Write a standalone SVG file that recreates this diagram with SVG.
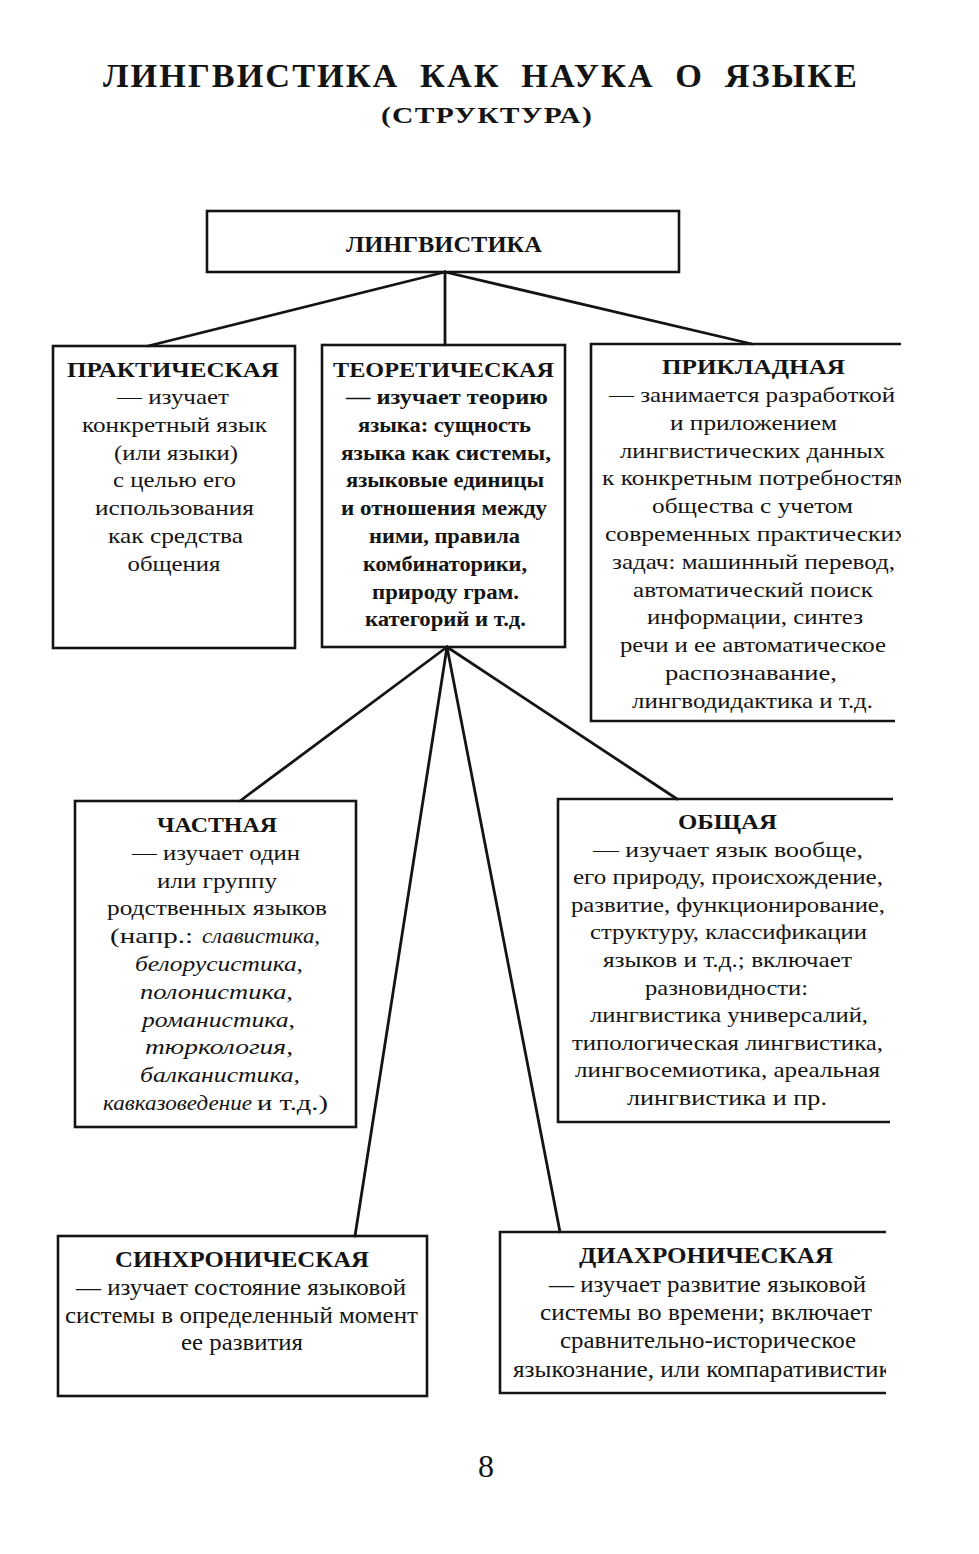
<svg xmlns="http://www.w3.org/2000/svg" width="979" height="1554" viewBox="0 0 979 1554">
<style>
text{font-family:"Liberation Serif","DejaVu Serif",serif;fill:#141414}
.h{font-weight:bold;font-size:22px}
.b{font-size:21px}
.bb{font-size:21px;font-weight:bold}
.c{font-size:23px}
.ch{font-weight:bold;font-size:24px}
.i{font-style:italic}
.box{fill:none;stroke:#141414;stroke-width:2.6}
#connectors line{stroke:#141414;stroke-width:2.8;stroke-linecap:round}
</style>
<defs>
<clipPath id="clipR1"><rect x="0" y="0" width="901" height="1554"/></clipPath>
<clipPath id="clipR2"><rect x="0" y="0" width="886" height="1554"/></clipPath>
</defs>
<rect width="979" height="1554" fill="#ffffff"/>

<g id="title">
<text x="481" y="87" text-anchor="middle" font-size="34" font-weight="bold" letter-spacing="2" word-spacing="10" textLength="756" lengthAdjust="spacingAndGlyphs">ЛИНГВИСТИКА КАК НАУКА О ЯЗЫКЕ</text>
<text x="487" y="123" text-anchor="middle" font-size="23" font-weight="bold" letter-spacing="1" textLength="212" lengthAdjust="spacingAndGlyphs">(СТРУКТУРА)</text>
</g>

<g id="connectors">
<line x1="445" y1="272" x2="148" y2="346"/>
<line x1="445" y1="272" x2="445" y2="345"/>
<line x1="445" y1="272" x2="752" y2="344"/>
<line x1="447" y1="647" x2="240" y2="801"/>
<line x1="447" y1="647" x2="677" y2="799"/>
<line x1="447" y1="647" x2="355" y2="1236"/>
<line x1="447" y1="647" x2="560" y2="1232"/>
</g>

<g id="n-lingvistika">
<rect class="box" x="207" y="211" width="472" height="61"/>
<text x="444" y="252" text-anchor="middle" font-size="24" font-weight="bold" textLength="196" lengthAdjust="spacingAndGlyphs">ЛИНГВИСТИКА</text>
</g>

<g id="n-prakticheskaya" text-anchor="middle">
<rect class="box" x="53" y="346" width="242" height="302"/>
<text class="h" x="173" y="377" textLength="212" lengthAdjust="spacingAndGlyphs">ПРАКТИЧЕСКАЯ</text>
<text class="b" x="173" y="404" textLength="112" lengthAdjust="spacingAndGlyphs">— изучает</text>
<text class="b" x="174.5" y="432" textLength="185" lengthAdjust="spacingAndGlyphs">конкретный язык</text>
<text class="b" x="176" y="460" textLength="124" lengthAdjust="spacingAndGlyphs">(или языки)</text>
<text class="b" x="174.5" y="487" textLength="123" lengthAdjust="spacingAndGlyphs">с целью его</text>
<text class="b" x="174.5" y="515" textLength="159" lengthAdjust="spacingAndGlyphs">использования</text>
<text class="b" x="175.5" y="543" textLength="135" lengthAdjust="spacingAndGlyphs">как средства</text>
<text class="b" x="174" y="571" textLength="93" lengthAdjust="spacingAndGlyphs">общения</text>
</g>

<g id="n-teoreticheskaya" text-anchor="middle">
<rect class="box" x="322" y="345" width="243" height="302"/>
<text class="h" x="443.5" y="377" textLength="221" lengthAdjust="spacingAndGlyphs">ТЕОРЕТИЧЕСКАЯ</text>
<text class="bb" x="447" y="404" textLength="202" lengthAdjust="spacingAndGlyphs">— изучает теорию</text>
<text class="bb" x="444.5" y="432" textLength="173" lengthAdjust="spacingAndGlyphs">языка: сущность</text>
<text class="bb" x="446" y="460" textLength="210" lengthAdjust="spacingAndGlyphs">языка как системы,</text>
<text class="bb" x="445" y="487" textLength="198" lengthAdjust="spacingAndGlyphs">языковые единицы</text>
<text class="bb" x="444" y="515" textLength="206" lengthAdjust="spacingAndGlyphs">и отношения между</text>
<text class="bb" x="444.5" y="543" textLength="151" lengthAdjust="spacingAndGlyphs">ними, правила</text>
<text class="bb" x="445" y="571" textLength="164" lengthAdjust="spacingAndGlyphs">комбинаторики,</text>
<text class="bb" x="445.5" y="599" textLength="147" lengthAdjust="spacingAndGlyphs">природу грам.</text>
<text class="bb" x="445.5" y="626" textLength="161" lengthAdjust="spacingAndGlyphs">категорий и т.д.</text>
</g>

<g id="n-prikladnaya" clip-path="url(#clipR1)">
<path class="box" d="M903,344 H591 V721 H895"/>
<text class="h" x="662" y="374" textLength="183" lengthAdjust="spacingAndGlyphs">ПРИКЛАДНАЯ</text>
<text class="b" x="609" y="402" textLength="286" lengthAdjust="spacingAndGlyphs">— занимается разработкой</text>
<text class="b" x="670" y="430" textLength="167" lengthAdjust="spacingAndGlyphs">и приложением</text>
<text class="b" x="620" y="458" textLength="265" lengthAdjust="spacingAndGlyphs">лингвистических данных</text>
<text class="b" x="602" y="485" textLength="308" lengthAdjust="spacingAndGlyphs">к конкретным потребностям</text>
<text class="b" x="652" y="513" textLength="201" lengthAdjust="spacingAndGlyphs">общества с учетом</text>
<text class="b" x="605" y="541" textLength="302" lengthAdjust="spacingAndGlyphs">современных практических</text>
<text class="b" x="612" y="569" textLength="283" lengthAdjust="spacingAndGlyphs">задач: машинный перевод,</text>
<text class="b" x="633" y="597" textLength="240" lengthAdjust="spacingAndGlyphs">автоматический поиск</text>
<text class="b" x="647" y="624" textLength="216" lengthAdjust="spacingAndGlyphs">информации, синтез</text>
<text class="b" x="620" y="652" textLength="266" lengthAdjust="spacingAndGlyphs">речи и ее автоматическое</text>
<text class="b" x="665" y="680" textLength="172" lengthAdjust="spacingAndGlyphs">распознавание,</text>
<text class="b" x="632" y="708" textLength="241" lengthAdjust="spacingAndGlyphs">лингводидактика и т.д.</text>
</g>

<g id="n-chastnaya">
<rect class="box" x="75" y="801" width="281" height="326"/>
<text class="h" x="157" y="832" textLength="120" lengthAdjust="spacingAndGlyphs">ЧАСТНАЯ</text>
<text class="b" x="132" y="860" textLength="168" lengthAdjust="spacingAndGlyphs">— изучает один</text>
<text class="b" x="157" y="888" textLength="120" lengthAdjust="spacingAndGlyphs">или группу</text>
<text class="b" x="107" y="915" textLength="220" lengthAdjust="spacingAndGlyphs">родственных языков</text>
<text class="b" x="110" y="943" textLength="83" lengthAdjust="spacingAndGlyphs">(напр.:</text>
<text class="b i" x="202" y="943" textLength="118" lengthAdjust="spacingAndGlyphs">славистика,</text>
<text class="b i" x="135" y="971" textLength="168" lengthAdjust="spacingAndGlyphs">белорусистика,</text>
<text class="b i" x="140" y="999" textLength="153" lengthAdjust="spacingAndGlyphs">полонистика,</text>
<text class="b i" x="142" y="1027" textLength="153" lengthAdjust="spacingAndGlyphs">романистика,</text>
<text class="b i" x="145" y="1054" textLength="148" lengthAdjust="spacingAndGlyphs">тюркология,</text>
<text class="b i" x="140" y="1082" textLength="160" lengthAdjust="spacingAndGlyphs">балканистика,</text>
<text class="b i" x="103" y="1110" textLength="149" lengthAdjust="spacingAndGlyphs">кавказоведение</text>
<text class="b" x="257" y="1110" textLength="71" lengthAdjust="spacingAndGlyphs">и т.д.)</text>
</g>

<g id="n-obshchaya" clip-path="url(#clipR1)">
<path class="box" d="M893,799 H558 V1122 H890"/>
<text class="h" x="678" y="829" textLength="99" lengthAdjust="spacingAndGlyphs">ОБЩАЯ</text>
<text class="b" x="593" y="857" textLength="270" lengthAdjust="spacingAndGlyphs">— изучает язык вообще,</text>
<text class="b" x="573" y="884" textLength="310" lengthAdjust="spacingAndGlyphs">его природу, происхождение,</text>
<text class="b" x="571" y="912" textLength="314" lengthAdjust="spacingAndGlyphs">развитие, функционирование,</text>
<text class="b" x="590" y="939" textLength="277" lengthAdjust="spacingAndGlyphs">структуру, классификации</text>
<text class="b" x="603" y="967" textLength="249" lengthAdjust="spacingAndGlyphs">языков и т.д.; включает</text>
<text class="b" x="645" y="995" textLength="163" lengthAdjust="spacingAndGlyphs">разновидности:</text>
<text class="b" x="590" y="1022" textLength="278" lengthAdjust="spacingAndGlyphs">лингвистика универсалий,</text>
<text class="b" x="572" y="1050" textLength="311" lengthAdjust="spacingAndGlyphs">типологическая лингвистика,</text>
<text class="b" x="575" y="1077" textLength="305" lengthAdjust="spacingAndGlyphs">лингвосемиотика, ареальная</text>
<text class="b" x="627" y="1105" textLength="200" lengthAdjust="spacingAndGlyphs">лингвистика и пр.</text>
</g>

<g id="n-sinkhronicheskaya">
<rect class="box" x="58" y="1236" width="369" height="160"/>
<text class="ch" x="115" y="1267" textLength="254" lengthAdjust="spacingAndGlyphs">СИНХРОНИЧЕСКАЯ</text>
<text class="c" x="76" y="1295" textLength="330" lengthAdjust="spacingAndGlyphs">— изучает состояние языковой</text>
<text class="c" x="65" y="1323" textLength="353" lengthAdjust="spacingAndGlyphs">системы в определенный момент</text>
<text class="c" x="181" y="1350" textLength="122" lengthAdjust="spacingAndGlyphs">ее развития</text>
</g>

<g id="n-diakhronicheskaya" clip-path="url(#clipR2)">
<path class="box" d="M888,1232 H500 V1393 H886"/>
<text class="ch" x="579" y="1263" textLength="254" lengthAdjust="spacingAndGlyphs">ДИАХРОНИЧЕСКАЯ</text>
<text class="c" x="549" y="1292" textLength="317" lengthAdjust="spacingAndGlyphs">— изучает развитие языковой</text>
<text class="c" x="540" y="1320" textLength="332" lengthAdjust="spacingAndGlyphs">системы во времени; включает</text>
<text class="c" x="560" y="1348" textLength="296" lengthAdjust="spacingAndGlyphs">сравнительно-историческое</text>
<text class="c" x="513" y="1377" textLength="390" lengthAdjust="spacingAndGlyphs">языкознание, или компаративистику</text>
</g>

<g id="page-number">
<text x="486" y="1477" text-anchor="middle" font-size="32">8</text>
</g>
</svg>
